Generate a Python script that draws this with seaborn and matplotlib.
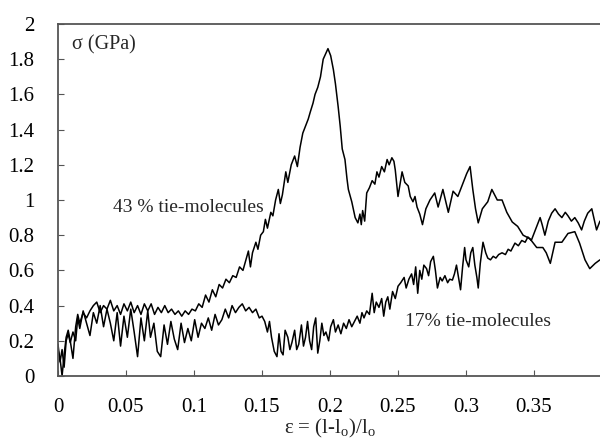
import matplotlib
matplotlib.use("Agg")
import matplotlib.pyplot as plt
import seaborn as sns
import numpy as np

# ---- data ----
strain_43 = [0.000, 0.0015, 0.003, 0.0045, 0.006, 0.0075, 0.009, 0.011, 0.013, 0.0145,
             0.016, 0.0185, 0.021, 0.0235, 0.026, 0.0285, 0.031, 0.0335, 0.036, 0.0385,
             0.041, 0.0435, 0.046, 0.0485, 0.051, 0.0535, 0.056, 0.0585, 0.061, 0.0635,
             0.066, 0.0685, 0.071, 0.0735, 0.076, 0.0785, 0.081, 0.0835, 0.086, 0.0885,
             0.091, 0.0935, 0.096, 0.0985, 0.101, 0.1035, 0.106, 0.1085, 0.111, 0.1135,
             0.116, 0.1185, 0.121, 0.1235, 0.126, 0.1285, 0.131, 0.1335, 0.136, 0.1385,
             0.140, 0.1415, 0.143, 0.1455, 0.147, 0.149, 0.151, 0.1525, 0.154, 0.1565,
             0.158, 0.160, 0.162, 0.1635, 0.165, 0.1675, 0.169, 0.1715, 0.174, 0.176,
             0.178, 0.180, 0.182, 0.184, 0.1855, 0.1875, 0.189, 0.191, 0.193, 0.195,
             0.1985, 0.2005, 0.2025, 0.204, 0.206, 0.2075, 0.209, 0.211, 0.2125, 0.2135,
             0.216, 0.2185, 0.2205, 0.222, 0.223, 0.224, 0.2255, 0.227, 0.229, 0.231,
             0.233, 0.2345, 0.236, 0.238, 0.240, 0.242, 0.2435, 0.2455, 0.247, 0.248,
             0.250, 0.2515, 0.253, 0.255, 0.2575, 0.259, 0.261, 0.2625, 0.264, 0.266,
             0.268, 0.2705, 0.2735, 0.277, 0.2795, 0.283, 0.287, 0.2905, 0.294, 0.298,
             0.3005, 0.303, 0.305, 0.307, 0.309, 0.312, 0.314, 0.316, 0.319, 0.321,
             0.323, 0.3265, 0.330, 0.334, 0.338, 0.342, 0.347, 0.352, 0.3565, 0.359,
             0.362, 0.3655, 0.3705, 0.375, 0.380, 0.3835, 0.3875, 0.391, 0.395, 0.3985]
stress_43 = [0.15, 0.10, 0.00, 0.12, 0.22, 0.26, 0.20, 0.10, 0.28, 0.35,
             0.30, 0.36, 0.33, 0.37, 0.40, 0.42, 0.36, 0.40, 0.38, 0.43,
             0.37, 0.40, 0.35, 0.41, 0.37, 0.42, 0.36, 0.40, 0.35, 0.41,
             0.37, 0.41, 0.35, 0.39, 0.36, 0.40, 0.36, 0.38, 0.35, 0.37,
             0.34, 0.37, 0.35, 0.38, 0.37, 0.41, 0.39, 0.46, 0.42, 0.49,
             0.45, 0.52, 0.50, 0.55, 0.53, 0.57, 0.56, 0.62, 0.60, 0.67,
             0.71, 0.62, 0.70, 0.76, 0.72, 0.80, 0.82, 0.89, 0.84, 0.93,
             0.91, 1.00, 1.06, 0.98, 1.03, 1.16, 1.10, 1.20, 1.25, 1.19,
             1.30, 1.38, 1.42, 1.46, 1.50, 1.55, 1.60, 1.64, 1.70, 1.80,
             1.86, 1.82, 1.74, 1.66, 1.53, 1.42, 1.29, 1.23, 1.12, 1.06,
             0.99, 0.90, 0.87, 0.92, 0.86, 0.94, 0.88, 1.04, 1.07, 1.11,
             1.09, 1.16, 1.13, 1.19, 1.16, 1.23, 1.20, 1.24, 1.22, 1.17,
             1.02, 1.09, 1.16, 1.10, 1.08, 1.02, 0.99, 1.02, 0.96, 0.92,
             0.86, 0.95, 1.00, 1.04, 0.96, 1.06, 0.93, 1.05, 1.02, 1.10,
             1.15, 1.19, 1.06, 0.95, 0.87, 0.95, 0.97, 0.99, 1.06, 1.03,
             1.00, 1.00, 0.93, 0.875, 0.85, 0.80, 0.78, 0.73, 0.73, 0.70,
             0.64, 0.76, 0.76, 0.81, 0.82, 0.755, 0.66, 0.61, 0.64, 0.66]

strain_17 = [0.000, 0.0015, 0.003, 0.0045, 0.006, 0.0075, 0.009, 0.011, 0.013, 0.0145,
             0.016, 0.0185, 0.021, 0.0235, 0.026, 0.0285, 0.031, 0.0335, 0.036, 0.0385,
             0.041, 0.0435, 0.046, 0.0485, 0.051, 0.0535, 0.056, 0.0585, 0.061, 0.0635,
             0.066, 0.068, 0.0705, 0.073, 0.0755, 0.078, 0.0805, 0.083, 0.0855, 0.088,
             0.0905, 0.093, 0.0955, 0.098, 0.1005, 0.103, 0.1055, 0.108, 0.1105, 0.113,
             0.1155, 0.118, 0.1205, 0.123, 0.1255, 0.128, 0.1305, 0.133, 0.1355, 0.138,
             0.1405, 0.143, 0.1455, 0.148, 0.150, 0.152, 0.154, 0.1555, 0.157, 0.159,
             0.161, 0.1625, 0.164, 0.1655, 0.167, 0.169, 0.1705, 0.172, 0.174, 0.1755,
             0.177, 0.179, 0.1805, 0.182, 0.1835, 0.185, 0.1865, 0.188, 0.1895, 0.191,
             0.1925, 0.194, 0.1955, 0.197, 0.199, 0.2005, 0.2025, 0.204, 0.206, 0.208,
             0.210, 0.212, 0.214, 0.216, 0.218, 0.220, 0.222, 0.2235, 0.225, 0.227,
             0.229, 0.231, 0.2325, 0.234, 0.236, 0.238, 0.2395, 0.241, 0.2425, 0.244,
             0.246, 0.248, 0.250, 0.252, 0.2545, 0.256, 0.258, 0.260, 0.2615, 0.263,
             0.2645, 0.266, 0.2675, 0.269, 0.271, 0.2725, 0.274, 0.276, 0.2775, 0.279,
             0.281, 0.2825, 0.2845, 0.2865, 0.288, 0.290, 0.2915, 0.293, 0.2945, 0.296,
             0.2975, 0.299, 0.300, 0.302, 0.3035, 0.305, 0.3065, 0.308, 0.309, 0.3105,
             0.3125, 0.3145, 0.316, 0.318, 0.320, 0.322, 0.324, 0.3265, 0.329, 0.331,
             0.333, 0.336, 0.3385, 0.341, 0.3435, 0.3455, 0.348, 0.351, 0.3545, 0.356,
             0.358, 0.3605, 0.363, 0.3655, 0.368, 0.3705, 0.373, 0.375, 0.3775, 0.380,
             0.3825, 0.385, 0.387, 0.3895, 0.3925, 0.396, 0.3985]
stress_17 = [0.18, 0.08, 0.15, 0.05, 0.20, 0.24, 0.19, 0.25, 0.20, 0.33,
             0.27, 0.37, 0.30, 0.23, 0.36, 0.30, 0.40, 0.28, 0.38, 0.30,
             0.20, 0.36, 0.17, 0.34, 0.22, 0.38, 0.25, 0.11, 0.33, 0.20,
             0.37, 0.22, 0.30, 0.14, 0.11, 0.29, 0.18, 0.31, 0.21, 0.15,
             0.30, 0.19, 0.27, 0.20, 0.32, 0.22, 0.30, 0.27, 0.33, 0.26,
             0.35, 0.29, 0.32, 0.38, 0.33, 0.40, 0.36, 0.39, 0.41, 0.37,
             0.39, 0.36, 0.38, 0.33, 0.34, 0.31, 0.25, 0.31, 0.22, 0.14,
             0.11, 0.24, 0.14, 0.12, 0.26, 0.22, 0.15, 0.19, 0.26, 0.15,
             0.18, 0.29, 0.17, 0.22, 0.31, 0.20, 0.15, 0.28, 0.33, 0.13,
             0.20, 0.30, 0.23, 0.25, 0.20, 0.28, 0.32, 0.25, 0.29, 0.24,
             0.30, 0.27, 0.32, 0.28, 0.31, 0.34, 0.30, 0.36, 0.33, 0.37,
             0.35, 0.47, 0.36, 0.42, 0.39, 0.44, 0.34, 0.42, 0.45, 0.38,
             0.48, 0.44, 0.51, 0.53, 0.56, 0.50, 0.55, 0.58, 0.52, 0.62,
             0.47, 0.60, 0.55, 0.63, 0.61, 0.57, 0.65, 0.68, 0.60, 0.50,
             0.56, 0.54, 0.57, 0.53, 0.55, 0.545, 0.58, 0.63, 0.56, 0.49,
             0.62, 0.73, 0.66, 0.62, 0.70, 0.73, 0.63, 0.56, 0.50, 0.64,
             0.76, 0.70, 0.67, 0.66, 0.68, 0.67, 0.69, 0.70, 0.69, 0.72,
             0.71, 0.755, 0.74, 0.77, 0.76, 0.79, 0.77, 0.83, 0.90, 0.86,
             0.80, 0.88, 0.925, 0.95, 0.92, 0.90, 0.93, 0.91, 0.88, 0.90,
             0.87, 0.83, 0.88, 0.925, 0.95, 0.83, 0.88]

x_ticks = [0, 0.05, 0.1, 0.15, 0.2, 0.25, 0.3, 0.35]
x_tick_labels = ["0", "0.05", "0.1", "0.15", "0.2", "0.25", "0.3", "0.35"]
y_ticks = [0, 0.2, 0.4, 0.6, 0.8, 1.0, 1.2, 1.4, 1.6, 1.8, 2.0]
y_tick_labels = ["0", "0.2", "0.4", "0.6", "0.8", "1", "1.2", "1.4", "1.6", "1.8", "2"]

# ---- style ----
sns.set_style("white")
plt.rcParams["font.family"] = ["Liberation Serif", "DejaVu Serif"]
plt.rcParams["mathtext.fontset"] = "custom"
plt.rcParams["mathtext.rm"] = "Liberation Serif"
plt.rcParams["mathtext.it"] = "Liberation Serif:italic"

fig = plt.figure(figsize=(6, 4.4), dpi=100)
ax = fig.add_axes([58 / 600, 1 - 376 / 440, (602 - 58) / 600, (376 - 24) / 440])

sns.lineplot(x=strain_43, y=stress_43, ax=ax, color="black", lw=1.1,
             sort=False, estimator=None)
sns.lineplot(x=strain_17, y=stress_17, ax=ax, color="black", lw=1.1,
             sort=False, estimator=None)

ax.set_xlim(0, 0.4)
ax.set_ylim(0, 2)
ax.set_xticks(x_ticks)
ax.set_xticklabels(x_tick_labels)
ax.set_yticks(y_ticks)
ax.set_yticklabels(y_tick_labels)

ax.tick_params(axis="both", direction="in", length=4, width=0.8, color="#555555",
               labelsize=15, labelcolor="black")
ax.tick_params(axis="y", pad=17, left=True)
ax.tick_params(axis="x", pad=16, bottom=True)

for side in ["left", "top", "bottom"]:
    ax.spines[side].set_visible(True)
    ax.spines[side].set_color("#555555")
    ax.spines[side].set_linewidth(1.3)
ax.spines["right"].set_visible(False)

ax.set_xlabel(r"ε = (l-l$_{\mathregular{o}}$)/l$_{\mathregular{o}}$", fontsize=15, labelpad=0)
ax.set_ylabel("")

ax.text(0.0103, 1.88, "σ (GPa)", fontsize=14.5, ha="left", va="center")
ax.text(0.0404, 0.96, "43 % tie-molecules", fontsize=14, ha="left", va="center")
ax.text(0.255, 0.307, "17% tie-molecules", fontsize=14, ha="left", va="center")

fig.savefig("out.png", dpi=100)
